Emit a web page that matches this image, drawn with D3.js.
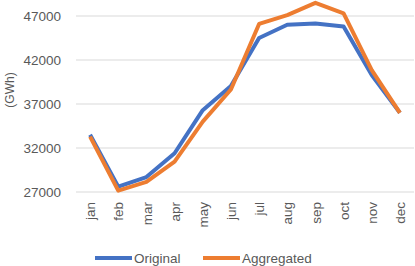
<!DOCTYPE html>
<html>
<head>
<meta charset="utf-8">
<script src="https://cdn.jsdelivr.net/npm/d3@7"></script>
<style>
  body { margin: 0; background: #fff; }
  text { font-family: "Liberation Sans", Arial, sans-serif; fill: #595959; }
</style>
</head>
<body>
<div id="chart"></div>
<script>
var months = ["jan", "feb", "mar", "apr", "may", "jun", "jul", "aug", "sep", "oct", "nov", "dec"];
var original = [33500, 27600, 28700, 31400, 36300, 39050, 44500, 46000, 46150, 45800, 40300, 36000];
var aggregated = [33300, 27150, 28150, 30450, 35000, 38650, 46100, 47100, 48500, 47300, 40850, 36000];
var yTicks = [27000, 32000, 37000, 42000, 47000];

var svgWidth = 415;
var svgHeight = 266;

var margin = { top: 16, bottom: 74, right: 1, left: 76 };
var width = svgWidth - margin.left - margin.right;
var height = svgHeight - margin.top - margin.bottom;

var svg = d3.select("#chart")
    .append("svg")
    .attr("width", svgWidth)
    .attr("height", svgHeight);

var chartGroup = svg.append("g")
    .attr("transform", `translate(${margin.left}, ${margin.top})`);

var xScale = d3.scalePoint()
    .domain(months)
    .range([0, width])
    .padding(0.5);

var yScale = d3.scaleLinear()
    .domain([27000, 47000])
    .range([height, 0]);

// gridlines
chartGroup.selectAll(".grid")
    .data(yTicks)
    .enter()
    .append("line")
    .attr("x1", 0)
    .attr("x2", width)
    .attr("y1", d => yScale(d))
    .attr("y2", d => yScale(d))
    .attr("stroke", "#d9d9d9")
    .attr("stroke-width", 1);

// y axis
var leftAxis = d3.axisLeft(yScale)
    .tickValues(yTicks)
    .tickFormat(d3.format("d"))
    .tickSize(0)
    .tickPadding(15);
var yAxis = chartGroup.append("g").call(leftAxis);
yAxis.select(".domain").remove();
yAxis.selectAll("text")
    .style("font-size", "13.5px")
    .attr("fill", "#595959");

// x axis
var bottomAxis = d3.axisBottom(xScale).tickSize(0).tickPadding(0);
var xAxis = chartGroup.append("g")
    .attr("transform", `translate(0, ${height})`)
    .call(bottomAxis);
xAxis.select(".domain").remove();
xAxis.selectAll("text")
    .style("font-size", "13.5px")
    .attr("fill", "#595959")
    .attr("transform", "rotate(-90)")
    .attr("x", -10)
    .attr("y", 0)
    .attr("dy", "0.35em")
    .style("text-anchor", "end");

// y axis label
chartGroup.append("text")
    .attr("transform", "rotate(-90)")
    .attr("x", -74)
    .attr("y", -62)
    .style("text-anchor", "middle")
    .style("font-size", "12px")
    .text("(GWh)");

var line = d3.line()
    .x((d, i) => xScale(months[i]))
    .y(d => yScale(d));

var series = [
    { name: "Original", values: original, color: "#4472C4" },
    { name: "Aggregated", values: aggregated, color: "#ED7D31" }
];

series.forEach(function(s) {
    chartGroup.append("path")
        .datum(s.values)
        .attr("d", line)
        .attr("fill", "none")
        .attr("stroke", s.color)
        .attr("stroke-width", 4)
        .attr("stroke-linejoin", "round");
});

// legend
var legendX = [95, 203];
var legend = svg.selectAll(".legend")
    .data(series)
    .enter()
    .append("g")
    .attr("transform", (d, i) => `translate(${legendX[i]}, 258)`);

legend.append("line")
    .attr("x1", 0)
    .attr("x2", 37)
    .attr("stroke", d => d.color)
    .attr("stroke-width", 4);

legend.append("text")
    .attr("x", 39)
    .attr("dy", "0.35em")
    .style("font-size", "13.5px")
    .text(d => d.name);
</script>
</body>
</html>
